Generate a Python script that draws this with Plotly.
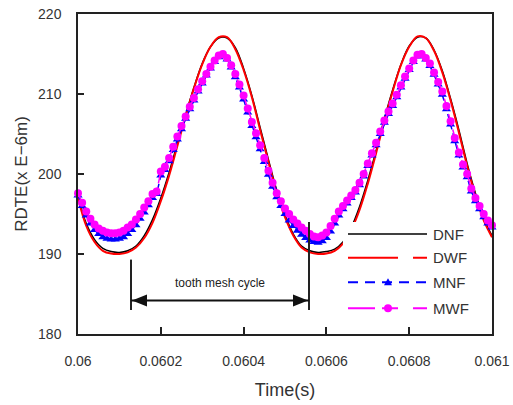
import plotly.graph_objects as go

# ---------------- data ----------------
# time grids (s): marker series sampled every 1e-5 s, smooth lines every 2e-5 s
time_m = [round(0.06 + i * 1e-5, 6) for i in range(101)]
time_d = [round(0.06 + i * 2e-5, 6) for i in range(51)]

dnf = [197.2, 193.8, 191.8, 190.7, 190.3, 190.2, 190.4, 191.0, 192.3, 194.3,
       197.0, 200.2, 203.8, 207.4, 210.8, 213.8, 215.9, 217.0, 217.0, 215.8,
       213.2, 209.8, 205.8, 201.8, 198.0, 194.9, 192.5, 191.0, 190.4, 190.2,
       190.3, 190.6, 191.5, 193.3, 195.9, 199.2, 202.9, 206.9, 210.5, 213.7,
       216.0, 217.1, 217.0, 215.5, 212.9, 209.4, 205.5, 201.3, 197.6, 194.4, 192.3]

dwf = [197.0, 193.5, 191.5, 190.4, 190.05, 190.0, 190.2, 190.8, 192.0, 193.9,
       196.6, 199.8, 203.5, 207.2, 210.7, 213.7, 215.9, 217.1, 217.1, 215.6,
       213.0, 209.6, 205.5, 201.5, 197.7, 194.6, 192.3, 190.8, 190.2, 190.0,
       190.05, 190.4, 191.3, 193.0, 195.5, 198.8, 202.6, 206.6, 210.3, 213.6,
       215.9, 217.2, 217.0, 215.4, 212.7, 209.2, 205.2, 201.0, 197.3, 194.2, 192.1]

mnf = [197.3, 196.0, 194.8, 193.8, 193.0, 192.5, 192.1, 191.9, 191.8, 191.8,
       191.9, 192.1, 192.5, 193.0, 193.6, 194.4, 195.2, 196.1, 197.0, 197.5,
       199.8, 200.5, 201.6, 203.0, 204.3, 205.6, 206.9, 208.1, 209.2, 210.3,
       211.3, 212.3, 213.2, 214.0, 214.6, 214.8, 214.3, 213.3, 212.1, 210.8,
       209.3, 207.7, 206.0, 204.6, 203.1, 201.5, 199.9, 198.4, 197.1, 196.0,
       195.0, 194.2, 193.5, 192.9, 192.4, 192.0, 191.7, 191.5, 191.4, 191.6,
       192.0, 192.8, 193.8, 194.8, 195.6, 196.3, 197.0, 197.7, 198.6, 199.7,
       201.0, 202.3, 203.6, 205.0, 206.4, 207.5, 208.5, 209.6, 210.8, 211.9,
       213.0, 214.0, 214.7, 214.8, 214.3, 213.5, 212.4, 211.2, 209.9, 208.1,
       206.2, 204.1, 202.3, 200.8, 199.6, 197.8, 196.6, 195.6, 194.6, 193.8, 193.3]

mwf = [197.6, 196.4, 195.3, 194.4, 193.7, 193.2, 192.9, 192.7, 192.6, 192.6,
       192.7, 192.9, 193.3, 193.7, 194.3, 195.0, 195.8, 196.6, 197.5, 197.8,
       200.3, 200.9, 202.0, 203.4, 204.7, 206.0, 207.2, 208.4, 209.5, 210.6,
       211.6, 212.5, 213.4, 214.2, 214.8, 215.0, 214.5, 213.6, 212.5, 211.2,
       209.8, 208.2, 206.5, 205.1, 203.6, 202.0, 200.4, 198.9, 197.6, 196.6,
       195.7, 195.0, 194.3, 193.8, 193.3, 192.9, 192.5, 192.2, 192.1, 192.3,
       192.7, 193.5, 194.4, 195.3, 196.0, 196.7, 197.3, 198.0, 198.9, 200.0,
       201.3, 202.6, 203.9, 205.3, 206.7, 207.8, 208.8, 209.9, 211.1, 212.2,
       213.2, 214.2, 214.9, 215.0, 214.5, 213.8, 212.7, 211.5, 210.3, 208.5,
       206.6, 204.5, 202.7, 201.2, 200.0, 198.2, 197.0, 196.0, 195.0, 194.2, 193.6]

x_tickvals = [0.06, 0.0602, 0.0604, 0.0606, 0.0608, 0.061]
x_ticktext = ["0.06", "0.0602", "0.0604", "0.0606", "0.0608", "0.061"]
y_tickvals = [180, 190, 200, 210, 220]

series_names = ["DNF", "DWF", "MNF", "MWF"]
series_colors = ["#000000", "#ff0000", "#0000ff", "#ff00ff"]

# tooth mesh cycle annotation (data units)
cycle_start = 0.060128
cycle_end = 0.060558
cycle_arrow_y = 184.2
cycle_left_top = 189.3
cycle_right_top = 194.0
cycle_bottom = 183.0

FONT = "Liberation Sans, Arial, sans-serif"

# ---------------- figure ----------------
fig = go.Figure()
fig.add_trace(go.Scatter(x=time_d, y=dnf, mode="lines", name="DNF",
                         line=dict(color=series_colors[0], width=1.5, shape="spline")))
fig.add_trace(go.Scatter(x=time_d, y=dwf, mode="lines", name="DWF",
                         line=dict(color=series_colors[1], width=2, shape="spline")))
fig.add_trace(go.Scatter(x=time_m, y=mnf, mode="lines+markers", name="MNF",
                         line=dict(color=series_colors[2], width=1.5, dash="6px,4px"),
                         marker=dict(symbol="triangle-up", size=8, color=series_colors[2]),
                         cliponaxis=False))
fig.add_trace(go.Scatter(x=time_m, y=mwf, mode="lines+markers", name="MWF",
                         line=dict(color=series_colors[3], width=1.5, dash="12px,4px"),
                         marker=dict(symbol="circle", size=8, color=series_colors[3]),
                         cliponaxis=False))

fig.update_layout(
    width=513, height=405,
    margin=dict(l=78, r=21, t=14, b=71),
    paper_bgcolor="white", plot_bgcolor="white",
    showlegend=False,
    font=dict(family=FONT, color="#222222"),
)
fig.update_xaxes(range=[0.06, 0.061], tickvals=x_tickvals, ticktext=x_ticktext,
                 ticks="inside", ticklen=7, tickwidth=1.5, tickcolor="#222222",
                 showline=True, linecolor="#222222", linewidth=1.5, mirror=True,
                 showgrid=False, zeroline=False, automargin=False,
                 tickfont=dict(size=14, color="#333333"), ticklabelstandoff=13,
                 title=dict(text="Time(s)", font=dict(size=18, color="#333333"), standoff=16))
fig.update_yaxes(range=[180, 220], tickvals=y_tickvals,
                 ticks="inside", ticklen=6, tickwidth=1.5, tickcolor="#222222",
                 showline=True, linecolor="#222222", linewidth=1.5, mirror=True,
                 showgrid=False, zeroline=False, automargin=False,
                 tickfont=dict(size=14, color="#333333"), ticklabelstandoff=12,
                 title=dict(text="RDTE(x E\u22126m)", font=dict(size=17, color="#333333"), standoff=6))

shapes = []
# tooth mesh cycle markers
shapes.append(dict(type="line", xref="x", yref="y", x0=cycle_start, x1=cycle_start,
                   y0=cycle_bottom, y1=cycle_left_top, line=dict(color="#222222", width=2)))
shapes.append(dict(type="line", xref="x", yref="y", x0=cycle_end, x1=cycle_end,
                   y0=cycle_bottom, y1=cycle_right_top, line=dict(color="#222222", width=2)))
shapes.append(dict(type="line", xref="x", yref="y", x0=cycle_start, x1=cycle_end,
                   y0=cycle_arrow_y, y1=cycle_arrow_y, line=dict(color="#111111", width=2)))
shapes.append(dict(type="path", xref="x", yref="y", xsizemode="pixel", ysizemode="pixel",
                   xanchor=cycle_start, yanchor=cycle_arrow_y,
                   path="M1,0 L16,6 L16,-6 Z", fillcolor="#111111", line=dict(width=0)))
shapes.append(dict(type="path", xref="x", yref="y", xsizemode="pixel", ysizemode="pixel",
                   xanchor=cycle_end, yanchor=cycle_arrow_y,
                   path="M-1,0 L-16,6 L-16,-6 Z", fillcolor="#111111", line=dict(width=0)))

# custom legend (white box, long line samples)
shapes.append(dict(type="rect", xref="paper", yref="paper", x0=0.640, x1=0.947,
                   y0=0.04, y1=0.35, fillcolor="white", line=dict(width=0), layer="above"))
leg_x0, leg_x1, leg_mx, leg_tx = 0.6522, 0.8430, 0.7488, 0.853
leg_ys = [0.3125, 0.2384, 0.1616, 0.0803]
leg_dash = ["solid", "50px,15px", "10px,7px", "27px,7px,16px,15px,14px"]
leg_w = [1.5, 2, 2, 2]
for name, col, yy, dsh, w in zip(series_names, series_colors, leg_ys, leg_dash, leg_w):
    shapes.append(dict(type="line", xref="paper", yref="paper", x0=leg_x0, x1=leg_x1,
                       y0=yy, y1=yy, line=dict(color=col, width=w, dash=dsh), layer="above"))
shapes.append(dict(type="path", xref="paper", yref="paper", xsizemode="pixel", ysizemode="pixel",
                   xanchor=leg_mx, yanchor=leg_ys[2], path="M-4,-3 L4,-3 L0,4 Z",
                   fillcolor=series_colors[2], line=dict(width=0), layer="above"))
shapes.append(dict(type="circle", xref="paper", yref="paper", xsizemode="pixel", ysizemode="pixel",
                   xanchor=leg_mx, yanchor=leg_ys[3], x0=-4, x1=4, y0=-4, y1=4,
                   fillcolor=series_colors[3], line=dict(width=0), layer="above"))
fig.update_layout(shapes=shapes)

annotations = [dict(x=(cycle_start + cycle_end) / 2, y=186.4, xref="x", yref="y",
                    text="tooth mesh cycle", showarrow=False,
                    font=dict(size=12, color="#222222", family=FONT))]
for name, yy in zip(series_names, leg_ys):
    annotations.append(dict(x=leg_tx, y=yy, xref="paper", yref="paper", text=name,
                            showarrow=False, xanchor="left", yanchor="middle",
                            font=dict(size=15, color="#333333", family=FONT)))
fig.update_layout(annotations=annotations)

fig.write_html("out.html")
